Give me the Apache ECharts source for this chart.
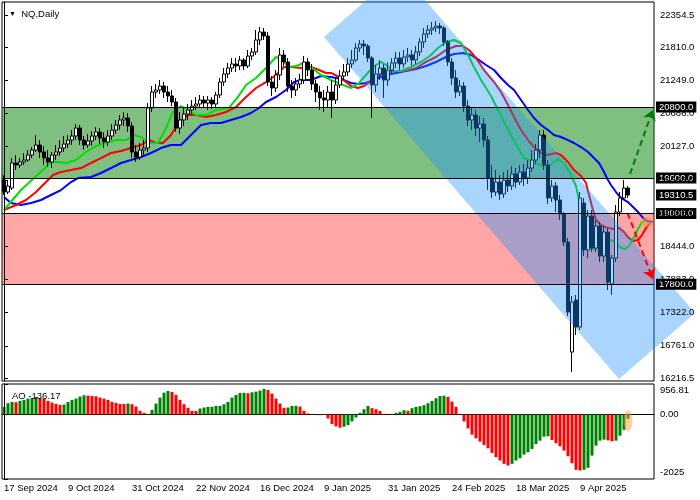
<!DOCTYPE html>
<html><head><meta charset="utf-8">
<script src="https://cdn.jsdelivr.net/npm/echarts@6/dist/echarts.min.js"></script>
<style>html,body{margin:0;padding:0;background:#fff}#c{width:700px;height:500px}</style>
</head><body><div id="c"></div>
<script>
const slotCount = 163;
const dateTicks = ['17 Sep 2024','9 Oct 2024','31 Oct 2024','22 Nov 2024','16 Dec 2024','9 Jan 2025','31 Jan 2025','24 Feb 2025','18 Mar 2025','9 Apr 2025'];
const priceTicks = [16216.5, 16761, 17322, 17883, 18444, 19005, 19566, 20127, 20688, 21249, 21810, 22354.5];
const priceTickLabels = ['16216.5','16761.0','17322.0','17883.0','18444.0','19005.0','19566.0','20127.0','20688.0','21249.0','21810.0','22354.5'];
const aoTicks = [956.81, 0, -2025];
const aoTickLabels = ['956.81','0.00','-2025'];

const opens = [19564,19361,19429,19852,19818,19869,19902,19987,20071,20156,20038,19936,19869,19987,20038,20105,20173,20240,20308,20443,
20240,20156,20224,20308,20376,20274,20207,20308,20409,20494,20579,20613,20477,20038,19953,20071,20105,20782,21052,21086,
21154,21052,20985,20883,20443,20579,20680,20748,20815,20849,20917,20866,20917,20849,21002,21221,21357,21458,21526,21492,
21593,21492,21661,21729,21932,22067,21999,21221,21120,21340,21678,21560,21154,21086,21188,21255,21560,21424,21188,21052,
20951,20917,21052,20917,21171,21323,21391,21526,21593,21796,21864,21830,21627,21171,21357,21458,21255,21424,21543,21627,
21526,21644,21678,21593,21729,21898,22033,22101,22135,22168,22135,21898,21560,21289,21052,21154,20815,20579,20663,20443,
20511,20240,19598,19361,19530,19328,19564,19463,19666,19530,19700,19598,19767,19902,20071,20325,19818,19260,19463,19226,
18989,18516,16656,17535,17078,19175,18381,18955,18414,18786,18279,18685,17806,18245,19023,19260,19429];
const closes = [19361,19463,19852,19818,19869,19902,19987,20071,20156,20038,19936,19869,19987,20038,20105,20173,20240,20308,20443,20240,
20156,20224,20308,20376,20274,20207,20308,20409,20494,20579,20613,20477,20038,19953,20071,20105,20782,21052,21086,21154,
21052,20985,20883,20443,20579,20680,20748,20815,20849,20917,20866,20917,20849,21002,21221,21357,21458,21526,21492,21593,
21492,21661,21729,21932,22067,21999,21221,21120,21340,21678,21560,21154,21086,21188,21255,21560,21424,21188,21052,20951,
20917,21052,20917,21171,21323,21391,21526,21593,21796,21864,21830,21627,21171,21357,21458,21255,21424,21543,21627,21526,
21644,21678,21593,21729,21898,22033,22101,22135,22168,22135,21898,21560,21289,21052,21154,20815,20579,20663,20443,20511,
20240,19598,19361,19530,19328,19564,19463,19666,19530,19700,19598,19767,19902,20071,20325,19818,19260,19463,19226,18989,
18516,17332,17501,17078,19260,18381,18955,18414,18786,18279,18685,17839,18245,19023,19260,19429,19311];
const lows = [19311,19328,19395,19733,19767,19818,19869,19936,20038,19936,19818,19784,19767,19902,19970,20038,20105,20156,20240,20156,
20071,20105,20139,20240,20173,20105,20139,20240,20342,20409,20477,20376,19936,19869,19902,19987,20038,20714,20951,21019,
20951,20883,20815,20376,20342,20477,20579,20680,20748,20782,20782,20748,20765,20799,20951,21154,21289,21391,21391,21424,
21424,21458,21593,21678,21847,21932,21154,20985,21052,21255,21492,21052,20951,20985,21120,21188,21323,21086,20883,20748,
20714,20782,20613,20849,21120,21255,21323,21458,21560,21729,21678,21560,20613,21052,21255,20951,21154,21357,21458,21424,
21458,21560,21492,21526,21661,21796,21965,22016,22067,22033,21830,21492,21171,20951,20985,20714,20477,20409,20308,20207,
20122,19395,19260,19294,19226,19260,19361,19395,19429,19480,19463,19497,19700,19835,19936,19733,19158,19192,19023,18888,
18448,17264,16318,16943,17028,18279,18245,18347,18347,18178,18178,17704,17620,18178,18955,19226,19260];
const highs = [19649,19564,19936,19987,19936,20021,20071,20122,20325,20240,20139,20071,20038,20156,20240,20308,20325,20409,20511,20494,
20308,20342,20393,20460,20443,20376,20409,20511,20579,20663,20714,20697,20545,20156,20190,20240,20866,21154,21188,21255,
21221,21154,21086,20951,20714,20782,20849,20917,20968,21002,20985,20985,20968,21052,21289,21458,21543,21627,21627,21661,
21627,21763,21796,22101,22151,22135,22067,21323,21424,21796,21763,21627,21255,21289,21357,21661,21627,21526,21255,21154,
21086,21154,21255,21289,21424,21526,21627,21763,21881,21932,21932,21864,21661,21509,21593,21526,21560,21627,21729,21729,
21763,21796,21763,21830,21965,22135,22185,22236,22253,22219,22168,21932,21627,21424,21255,21221,20917,20782,20748,20646,
20613,20308,19818,19733,19649,19700,19733,19801,19767,19818,19835,19902,20071,20173,20409,20409,19902,19564,19530,19311,
19023,18583,17603,17620,19361,19260,19057,19057,18888,18854,18786,18752,18296,19142,19361,19564,19463];

const aoValues = [239,354,395,385,426,458,499,520,551,520,499,426,374,333,302,312,395,458,499,562,
603,593,582,572,530,499,458,395,364,333,330,343,322,250,114,52,21,146,343,530,
686,738,707,614,458,322,208,114,110,187,218,239,242,270,272,322,395,530,614,676,
680,666,697,718,749,801,770,655,499,343,208,218,270,272,250,114,31,10,-10,-20,
-15,-125,-302,-374,-416,-385,-333,-218,-94,52,166,270,198,166,114,21,-10,21,52,83,
135,114,198,239,260,291,354,426,510,582,590,551,406,239,21,-218,-437,-634,-749,-853,
-957,-1061,-1206,-1342,-1446,-1550,-1602,-1550,-1446,-1373,-1258,-1186,-1082,-926,-822,-697,-686,-801,-905,-998,
-1134,-1310,-1529,-1737,-1758,-1737,-1674,-1290,-978,-822,-790,-811,-842,-822,-666,-478,-136.17];

const greenLine = [[0,19057],[4.25,19395],[7.5,19598],[10.5,19784],[11.75,19869],[13.5,19869],[15.5,19852],[18,19902],[20.5,20038],[23,20139],
[25.5,20190],[28,20240],[30.5,20240],[32.5,20325],[34.25,20291],[36.25,20190],[38.5,20190],[40.5,20443],[42.25,20714],[44.25,20815],
[46,20748],[48,20663],[50.5,20663],[53,20748],[56.25,20782],[58.5,20968],[60.5,21171],[63,21289],[65.5,21458],[68,21644],
[69.25,21610],[71.25,21475],[73,21492],[75,21543],[76.75,21475],[79.25,21340],[81.75,21255],[84.25,21188],[86.75,21120],[88.5,21188],
[90.5,21340],[92.25,21475],[94.25,21560],[95.5,21509],[97.5,21407],[99.25,21407],[101.75,21475],[104.25,21560],[106.75,21678],[108.5,21796],
[110.5,21898],[112.5,21932],[114.25,21881],[116,21678],[117.5,21475],[119.25,21255],[121.75,20985],[123.5,20748],[125,20545],[126.75,20325],
[128.5,20105],[130,19936],[131.75,19886],[134.25,19818],[136,19784],[137.5,19869],[138.5,19919],[140,19852],[141.75,19649],[143,19463],
[143.75,19226],[144.25,19006],[145,18668],[146,18431],[147.5,18398],[149.25,18431],[150.5,18533],[151.75,18550],[153,18499],[154.25,18414],
[155.25,18398],[156.25,18448],[157.5,18600],[158.5,18735],[159.5,18854],[160.5,18871]];
const redLine = [[0,19057],[3,19142],[5.5,19226],[8,19361],[10.5,19530],[12.25,19649],[14.25,19700],[16.75,19733],[19.25,19767],[21.75,19852],
[24.25,19936],[26.75,20021],[29.25,20055],[31.75,20105],[34.25,20156],[36.25,20240],[38,20190],[39.75,20190],[41.75,20325],[43.75,20545],
[46,20663],[48,20663],[50.5,20630],[53,20663],[55.5,20714],[58,20799],[60.5,20968],[63,21120],[65.5,21221],[68,21340],
[70,21475],[71.75,21475],[74.25,21458],[76.75,21475],[78.75,21424],[80.5,21374],[81.75,21374],[84.25,21289],[86.75,21154],[88.5,21120],
[90,21154],[91.75,21238],[93.5,21323],[95.5,21391],[98,21407],[100.5,21407],[103,21458],[105.5,21560],[108,21644],[110.5,21763],
[113,21830],[114.75,21830],[116.25,21763],[118,21627],[120,21424],[122.5,21221],[124.25,21052],[126,20832],[127.5,20630],[129.25,20409],
[131,20240],[132.5,20122],[134.25,20021],[136,19987],[138,20021],[139.25,19987],[141,19869],[142.5,19733],[144.25,19632],[145.5,19513],
[146.25,19311],[147.25,19057],[148,18888],[149.25,18803],[151,18752],[152.5,18735],[153.75,18752],[155,18685],[156.25,18583],[157.25,18533],
[158.5,18550],[159.5,18634],[160.5,18752],[161.5,18837]];
const blueLine = [[0,19277],[1.75,19175],[4.25,19142],[6.75,19175],[9.25,19226],[11.75,19311],[14.25,19395],[16.75,19530],[18.5,19598],[21.75,19615],
[24.25,19683],[26.75,19767],[29.25,19852],[31.75,19902],[34.25,19953],[36.75,20021],[39.25,20105],[41.75,20156],[44.25,20156],[46.75,20325],
[49.25,20494],[51.75,20528],[54.25,20528],[56.75,20579],[59.25,20630],[61.75,20697],[63.75,20782],[65.5,20883],[68,20968],[70.5,21086],
[72.5,21221],[74.25,21255],[76.75,21255],[79.25,21323],[81.75,21306],[84.25,21272],[86.75,21204],[88.5,21188],[90.5,21204],[93,21272],
[95.5,21340],[98,21374],[100.5,21407],[103,21441],[105.5,21492],[108,21560],[110.5,21644],[112.5,21695],[114.75,21712],[116.75,21678],
[118.75,21593],[120.5,21509],[122.5,21424],[124.25,21289],[126,21171],[127.5,21086],[129.25,20917],[131,20748],[132.5,20613],[134.25,20494],
[136,20409],[137.5,20325],[139.25,20291],[141,20240],[142.5,20190],[144.25,20122],[146,20038],[147.5,19936],[148.75,19852],[149.75,19733],
[151,19564],[151.75,19480],[153,19361],[154.25,19260],[156,19192],[157.5,19091],[158.75,19006],[159.75,18922],[160.75,18871],[162.25,18854]];

const levels = [20800, 19600, 19000, 17800];
const levelLabels = ['20800.0','19600.0','19000.0','17800.0'];
const lastPrice = 19310.5;
const buyZone = [19600, 20800];
const sellZone = [17800, 19000];
const channelIdx = [80, 99, 172.75, 153.75];
const channelPrice = [21982, 23098, 17315, 16199];
const upArrow = [[156.5, 19666], [162.2, 20748]];
const downArrow = [[155.9, 19006], [162.2, 17890]];
const markMain = [160.75, 18854];
const markAO = [156, -197];

const cats = Array.from({length: slotCount}, (_, i) => String(i));
const candles = opens.map((o, i) => [o, closes[i], lows[i], highs[i]]);
const GREEN = '#008000', RED = '#ff0000';
const aoData = aoValues.map((v, i) => ({value: v, itemStyle: {color: (i === 0 || v > aoValues[i - 1]) ? GREEN : RED}}));
const FONT = 'Liberation Sans';

const chart = echarts.init(document.getElementById('c'), null, {renderer: 'canvas'});
chart.setOption({
  animation: false,
  textStyle: {fontFamily: FONT},
  title: [
    {text: '{t|\u25BC}  NQ,Daily', left: 4, top: 4,
     textStyle: {fontSize: 9.5, fontWeight: 'normal', color: '#000', fontFamily: FONT, rich: {t: {fontSize: 7, color: '#000'}}}},
    {text: 'AO -136.17', left: 7, top: 386, textStyle: {fontSize: 9.5, fontWeight: 'normal', color: '#000', fontFamily: FONT}}
  ],
  grid: [
    {left: 2, width: 652, top: 2, height: 379, show: true, borderColor: '#000', borderWidth: 1, backgroundColor: 'transparent'},
    {left: 2, width: 652, top: 384, height: 95, show: true, borderColor: '#000', borderWidth: 1, backgroundColor: 'transparent'}
  ],
  xAxis: [
    {type: 'category', gridIndex: 0, data: cats, show: false, boundaryGap: true},
    {type: 'value', gridIndex: 0, min: -0.5, max: slotCount - 0.5, show: false},
    {type: 'category', gridIndex: 1, data: cats, boundaryGap: true,
     axisLine: {lineStyle: {color: '#000'}},
     axisTick: {interval: 15, alignWithLabel: true, length: 4, lineStyle: {color: '#000'}},
     axisLabel: {interval: 15, align: 'left', margin: 4, fontSize: 9.5, color: '#000', fontFamily: FONT,
       formatter: (v, i) => (i % 16 === 0 && dateTicks[i / 16]) ? dateTicks[i / 16] : ''}},
    {type: 'value', gridIndex: 1, min: -0.5, max: slotCount - 0.5, show: false}
  ],
  yAxis: [
    {type: 'value', gridIndex: 0, position: 'right', min: 16166, max: 22574, z: 8,
     splitLine: {show: false},
     axisLine: {show: true, lineStyle: {color: '#000'}},
     axisTick: {show: true, length: 4, customValues: priceTicks, lineStyle: {color: '#000'}},
     axisLabel: {customValues: priceTicks, margin: 6, fontSize: 9.5, color: '#000', fontFamily: FONT,
       formatter: v => { const k = priceTicks.indexOf(v); return k >= 0 ? priceTickLabels[k] : ''; }}},
    {type: 'value', gridIndex: 1, position: 'right', min: -2025, max: 956.81, z: 8,
     splitLine: {show: false},
     axisLine: {show: true, lineStyle: {color: '#000'}},
     axisTick: {show: true, length: 4, customValues: aoTicks, lineStyle: {color: '#000'}},
     axisLabel: {customValues: aoTicks, margin: 6, fontSize: 9.5, color: '#000', fontFamily: FONT,
       verticalAlignMaxLabel: 'middle', verticalAlignMinLabel: 'middle',
       rich: {top: {padding: [12, 0, 0, 0], fontSize: 9.5}, bot: {padding: [0, 0, 14, 0], fontSize: 9.5}, mid: {fontSize: 9.5}},
       formatter: v => {
         const k = aoTicks.indexOf(v);
         if (k < 0) return '';
         const style = k === 0 ? 'top' : (k === aoTicks.length - 1 ? 'bot' : 'mid');
         return '{' + style + '|' + aoTickLabels[k] + '}';
       }}}
  ],
  series: [
    {type: 'candlestick', name: 'NQ', xAxisIndex: 0, yAxisIndex: 0, data: candles, barWidth: 3, z: 2,
     itemStyle: {color: '#ffffff', color0: '#000000', borderColor: '#000000', borderColor0: '#000000', borderWidth: 1}},
    {type: 'line', name: 'jaw', xAxisIndex: 1, yAxisIndex: 0, data: blueLine, showSymbol: false, z: 2,
     lineStyle: {color: '#0000ff', width: 2}},
    {type: 'line', name: 'teeth', xAxisIndex: 1, yAxisIndex: 0, data: redLine, showSymbol: false, z: 2,
     lineStyle: {color: '#ff0000', width: 2}},
    {type: 'line', name: 'lips', xAxisIndex: 1, yAxisIndex: 0, data: greenLine, showSymbol: false, z: 2,
     lineStyle: {color: '#00e000', width: 2}},
    {type: 'custom', name: 'channel', xAxisIndex: 1, yAxisIndex: 0, data: [0], clip: false, z: 3, silent: true,
     renderItem: (params, api) => ({
       type: 'polygon',
       shape: {points: channelIdx.map((x, k) => api.coord([x, channelPrice[k]]))},
       style: {fill: 'rgba(30,144,255,0.38)'}
     })},
    {type: 'line', name: 'zones', xAxisIndex: 1, yAxisIndex: 0, data: [], z: 4, silent: true,
     markArea: {silent: true, data: [
       [{yAxis: buyZone[0], itemStyle: {color: 'rgba(0,128,0,0.5)'}}, {yAxis: buyZone[1]}],
       [{yAxis: sellZone[0], itemStyle: {color: 'rgba(255,0,0,0.35)'}}, {yAxis: sellZone[1]}]
     ]}},
    {type: 'line', name: 'arrows', xAxisIndex: 1, yAxisIndex: 0, data: [], z: 6, silent: true,
     markLine: {silent: true, symbol: ['none', 'arrow'], symbolSize: 10, label: {show: false},
       data: [
         [{coord: upArrow[0], lineStyle: {color: '#008000', width: 2, type: [6, 4]}}, {coord: upArrow[1]}],
         [{coord: downArrow[0], lineStyle: {color: '#ff0000', width: 2, type: [6, 4]}}, {coord: downArrow[1]}]
       ]}},
    {type: 'scatter', name: 'markMain', xAxisIndex: 1, yAxisIndex: 0, data: [markMain], z: 6, silent: true,
     symbol: 'circle', symbolSize: [13, 10], itemStyle: {color: 'rgba(255,150,70,0.7)'}},
    {type: 'line', name: 'levels', xAxisIndex: 1, yAxisIndex: 0, data: [], z: 20, silent: true,
     markLine: {silent: true, symbol: ['none', 'none'],
       lineStyle: {color: '#000', width: 1, type: 'solid'},
       label: {show: true, position: 'end', distance: 2, color: '#fff', backgroundColor: '#000',
         padding: [1, 3, 0, 3], fontSize: 9.5, fontFamily: FONT},
       data: levels.map((v, k) => ({yAxis: v, label: {formatter: levelLabels[k]}})).concat([
         {yAxis: lastPrice, lineStyle: {color: 'rgba(0,0,0,0)', width: 1}, label: {formatter: lastPrice.toFixed(1)}}])}},
    {type: 'bar', name: 'AO', xAxisIndex: 2, yAxisIndex: 1, data: aoData, barWidth: 3, z: 2},
    {type: 'scatter', name: 'markAO', xAxisIndex: 2, yAxisIndex: 1, data: [markAO], z: 6, silent: true,
     symbol: 'circle', symbolSize: [9, 21], itemStyle: {color: 'rgba(255,150,70,0.6)'}}
  ]
});
</script>
</body></html>
